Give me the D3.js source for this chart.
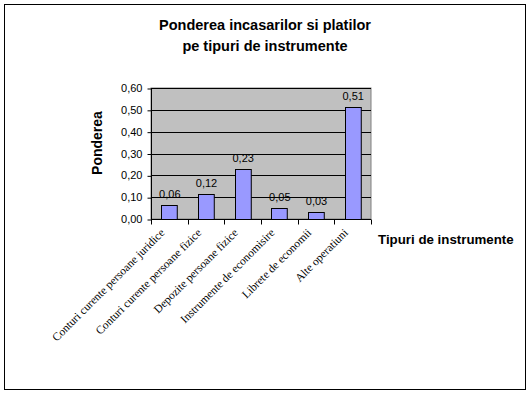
<!DOCTYPE html>
<html>
<head>
<meta charset="utf-8">
<script src="https://cdn.jsdelivr.net/npm/d3@7"></script>
<style>
  body { margin: 0; background: #fff; }
  text { font-family: Arial, "Liberation Sans", sans-serif; }
  text.cl { font-family: "Liberation Serif", "Times New Roman", serif; }
</style>
</head>
<body>
<svg id="chart" width="531" height="395"></svg>
<script>
const categories = [
  "Conturi curente persoane juridice",
  "Conturi curente persoane fizice",
  "Depozite persoane fizice",
  "Instrumente de economisire",
  "Librete de economii",
  "Alte operatiuni"
]
const values = [0.064, 0.116, 0.229, 0.05, 0.032, 0.512]
const yTicks = [0, 0.1, 0.2, 0.3, 0.4, 0.5, 0.6]
const titleLines = ["Ponderea incasarilor si platilor", "pe tipuri de instrumente"]

const svg = d3.select("#chart")
const margin = { left: 151, top: 88, right: 160, bottom: 176 }
const width = 531 - margin.left - margin.right
const height = 395 - margin.top - margin.bottom

const fmt = v => d3.format(".2f")(v).replace(".", ",")

// outer frame
svg.append("rect")
  .attr("x", 4.5).attr("y", 4.5)
  .attr("width", 521).attr("height", 385)
  .attr("fill", "#fff").attr("stroke", "#000")

svg.append("g").selectAll("text")
  .data(titleLines)
  .join("text")
  .attr("x", 265).attr("y", (d, i) => 30 + i * 21)
  .attr("text-anchor", "middle")
  .attr("font-size", 14.5).attr("font-weight", "bold")
  .text(d => d)

const g = svg.append("g").attr("transform", `translate(${margin.left}, ${margin.top})`)

const x = d3.scaleBand().domain(categories).range([0, width]).paddingInner(0.57).paddingOuter(0.285)
const y = d3.scaleLinear().domain([0, 0.6]).range([height, 0])

g.append("rect")
  .attr("width", width).attr("height", height)
  .attr("fill", "#c0c0c0").attr("stroke", "#808080")

g.append("g").selectAll("line")
  .data(yTicks.slice(1))
  .join("line")
  .attr("x1", 0).attr("x2", width)
  .attr("y1", d => Math.round(y(d)) + 0.5).attr("y2", d => Math.round(y(d)) + 0.5)
  .attr("stroke", "#000")

g.append("g").selectAll("rect")
  .data(values)
  .join("rect")
  .attr("x", (d, i) => Math.round(x(categories[i])) + 0.5)
  .attr("y", d => Math.round(y(d)) + 0.5)
  .attr("width", x.bandwidth())
  .attr("height", d => height - Math.round(y(d)))
  .attr("fill", "#9999ff").attr("stroke", "#000")

g.append("g").selectAll("text")
  .data(values)
  .join("text")
  .attr("x", (d, i) => x(categories[i]) + x.bandwidth() / 2 + 0.5)
  .attr("y", d => y(d) - 7)
  .attr("text-anchor", "middle")
  .attr("font-size", 11)
  .text(d => fmt(d))

// y axis
const yAxis = g.append("g")
  .attr("transform", "translate(0.5, 0)")
  .call(d3.axisLeft(y).tickValues(yTicks).tickSize(4).tickPadding(5).tickFormat(fmt))
yAxis.select(".domain").attr("d", `M0,${height + 0.5}V0.5`)
yAxis.selectAll(".tick line").attr("transform", "translate(0, 0.5)")
yAxis.selectAll("text").attr("font-size", 11).attr("fill", "#000")

// x axis with category boundary ticks
const step = x.step()
const xAxis = g.append("g").attr("transform", `translate(0, ${height + 0.5})`)
xAxis.append("line").attr("x1", 0).attr("x2", width).attr("stroke", "#000")
xAxis.selectAll(".bt")
  .data(d3.range(categories.length + 1))
  .join("line")
  .attr("class", "bt")
  .attr("x1", i => Math.round(i * step) + 0.5).attr("x2", i => Math.round(i * step) + 0.5)
  .attr("y1", 0).attr("y2", 5)
  .attr("stroke", "#000")

xAxis.selectAll(".cl")
  .data(categories)
  .join("text")
  .attr("class", "cl")
  .attr("text-anchor", "end")
  .attr("font-size", 11.5)
  .attr("transform", d => `translate(${x(d) + x.bandwidth() / 2 - 4}, 14) rotate(-45)`)
  .text(d => d)

svg.append("text")
  .attr("transform", `translate(102, 143) rotate(-90)`)
  .attr("text-anchor", "middle")
  .attr("font-size", 14).attr("font-weight", "bold")
  .text("Ponderea")

svg.append("text")
  .attr("x", 378).attr("y", 244)
  .attr("font-size", 13.3).attr("font-weight", "bold")
  .text("Tipuri de instrumente")
</script>
</body>
</html>
